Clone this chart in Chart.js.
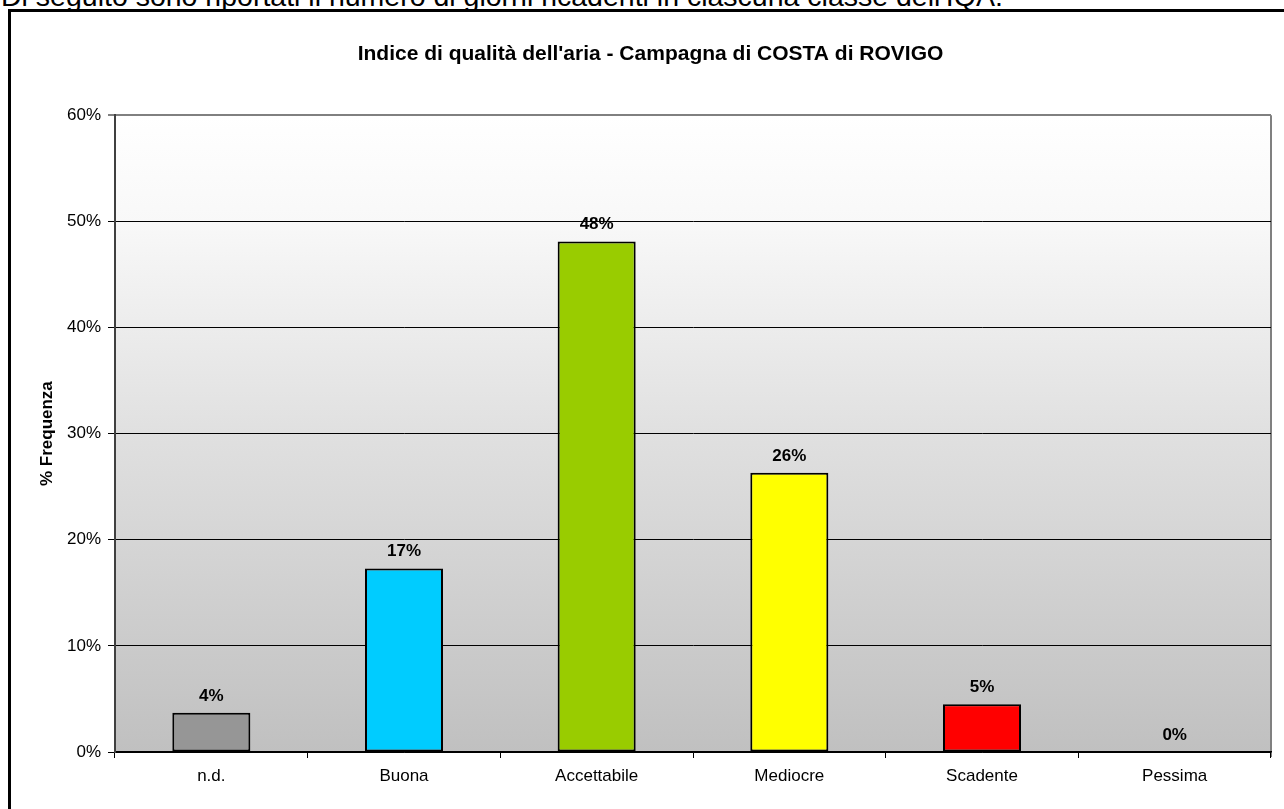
<!DOCTYPE html>
<html>
<head>
<meta charset="utf-8">
<script src="https://cdn.jsdelivr.net/npm/chart.js@4"></script>
<style>
  body { margin: 0; background: #fff; width: 1284px; height: 809px; overflow: hidden; position: relative; font-family: 'Liberation Sans', Arial, sans-serif; }
  #intro { position: absolute; left: 1px; top: -15px; font-size: 28.5px; line-height: 22px; white-space: nowrap; color: #000; }
  #frame { position: absolute; left: 8px; top: 9px; width: 1300px; height: 830px; border: 3px solid #000; }
  #wrap { position: absolute; left: 0; top: 0; width: 1284px; height: 809px; }
</style>
</head>
<body>
<div id="intro">Di seguito sono riportati il numero di giorni ricadenti in ciascuna classe dell'IQA.</div>
<div id="frame"></div>
<div id="wrap"><canvas id="iqaChart"></canvas></div>
<script>
// Data
const classi = ['n.d.', 'Buona', 'Accettabile', 'Mediocre', 'Scadente', 'Pessima'];
const frequenza = [3.7, 17.3, 48.1, 26.3, 4.5, 0];
const coloriClassi = ['#969696', '#00ccff', '#99cc00', '#ffff00', '#ff0000', '#800000'];
const yTicks = [0, 10, 20, 30, 40, 50, 60];

const FONT = "'Liberation Sans', Arial, sans-serif";
Chart.defaults.font.family = FONT;
Chart.defaults.color = '#000';

// plot area background (white -> silver) and gray frame
const plotBackground = {
    id: 'plotBackground',
    beforeDraw(chart) {
        const { ctx, chartArea: a } = chart;
        const g = ctx.createLinearGradient(0, a.top, 0, a.bottom);
        g.addColorStop(0, '#ffffff');
        g.addColorStop(0.17, '#f8f8f8');
        g.addColorStop(0.5, '#e0e0e0');
        g.addColorStop(1, '#c0c0c0');
        ctx.save();
        ctx.fillStyle = g;
        ctx.fillRect(a.left, a.top, a.right - a.left, a.bottom - a.top);
        ctx.strokeStyle = '#808080';
        ctx.lineWidth = 2;
        ctx.beginPath();
        ctx.moveTo(a.right, a.top);
        ctx.lineTo(a.right, a.bottom + 5);
        ctx.stroke();
        ctx.restore();
    }
};

// value labels above each bar
const valueLabels = {
    id: 'valueLabels',
    afterDatasetsDraw(chart) {
        const { ctx } = chart;
        const meta = chart.getDatasetMeta(0);
        ctx.save();
        ctx.font = 'bold 17px ' + FONT;
        ctx.fillStyle = '#000';
        ctx.textAlign = 'center';
        ctx.textBaseline = 'alphabetic';
        meta.data.forEach((bar, i) => {
            ctx.fillText(Math.round(frequenza[i]) + '%', bar.x, bar.y - 12);
        });
        ctx.restore();
    }
};

new Chart(document.getElementById('iqaChart'), {
    type: 'bar',
    data: {
        labels: classi,
        datasets: [{
            data: frequenza,
            backgroundColor: coloriClassi,
            borderColor: '#000',
            borderWidth: 2,
            borderSkipped: false,
            barPercentage: 0.405,
            categoryPercentage: 1
        }]
    },
    options: {
        responsive: true, maintainAspectRatio: false,
        animation: false,
        layout: { padding: { left: 30, right: 13, top: 0, bottom: 0 } },
        plugins: {
            legend: { display: false },
            tooltip: { enabled: false },
            title: {
                display: true,
                text: "Indice di qualità dell'aria - Campagna di COSTA di ROVIGO",
                font: { size: 21, weight: 'bold' },
                color: '#000',
                padding: { top: 42, bottom: 48 }
            }
        },
        scales: {
            x: {
                afterFit(scale) { scale.height = 57; },
                grid: { drawOnChartArea: false, color: '#000', tickLength: 6 },
                border: { color: '#000', width: 1.5 },
                ticks: { font: { size: 17 }, padding: 8 }
            },
            y: {
                min: 0, max: 60,
                afterFit(scale) { scale.width = 85; },
                afterBuildTicks(scale) { scale.ticks = yTicks.map(v => ({ value: v })); },
                grid: {
                    color: ctx => ctx.tick && ctx.tick.value === 60 ? '#808080' : '#000',
                    lineWidth: ctx => ctx.tick && ctx.tick.value === 60 ? 2 : 1,
                    tickLength: 7
                },
                border: { color: '#404040', width: 2 },
                ticks: { font: { size: 17 }, padding: 7, callback: v => v + '%' },
                title: {
                    display: true,
                    text: '% Frequenza',
                    font: { size: 17, weight: 'bold' },
                    padding: { top: 7, bottom: 0 }
                }
            }
        }
    },
    plugins: [plotBackground, valueLabels]
});
</script>
</body>
</html>
